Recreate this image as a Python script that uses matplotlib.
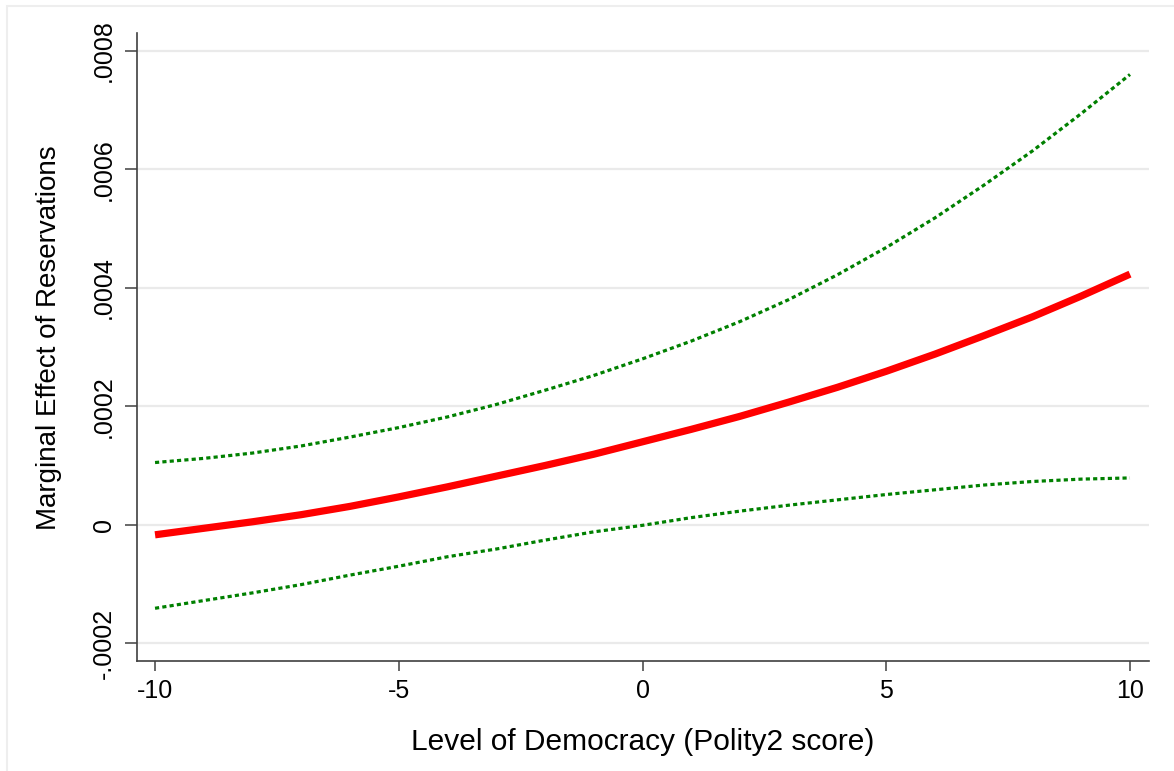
import numpy as np
import matplotlib
matplotlib.use("Agg")
import matplotlib.pyplot as plt
from matplotlib.patches import Rectangle

plt.rcParams['font.family'] = ['Liberation Sans', 'DejaVu Sans']

# polity2 score and marginal effect (in units of 1e-4)
polity = [-10, -9, -8, -7, -6, -5, -4, -3, -2, -1, 0, 1, 2, 3, 4, 5, 6, 7, 8, 9, 10]
effect = [-0.17, -0.06, 0.05, 0.17, 0.31, 0.47, 0.64, 0.82, 1.00, 1.19, 1.40,
          1.61, 1.83, 2.07, 2.32, 2.59, 2.88, 3.19, 3.51, 3.86, 4.23]
upper = [1.05, 1.12, 1.21, 1.33, 1.48, 1.64, 1.82, 2.03, 2.27, 2.52, 2.80,
         3.10, 3.43, 3.80, 4.22, 4.68, 5.18, 5.73, 6.31, 6.94, 7.60]
lower = [-1.41, -1.28, -1.15, -1.01, -0.85, -0.70, -0.54, -0.41, -0.26, -0.12, -0.01,
         0.12, 0.23, 0.33, 0.42, 0.51, 0.59, 0.67, 0.73, 0.77, 0.79]

yticks = [-0.0002, 0, 0.0002, 0.0004, 0.0006, 0.0008]
ytick_labels = ['-.0002', '0', '.0002', '.0004', '.0006', '.0008']
xticks = [-10, -5, 0, 5, 10]

effect = np.array(effect) * 1e-4
upper = np.array(upper) * 1e-4
lower = np.array(lower) * 1e-4

fig = plt.figure(figsize=(11.74, 7.71), dpi=100)
# light outer frame like the stata graph region
fig.patches.append(Rectangle((7/1174, -0.1), 1.2, 1 - 6/771 + 0.1, transform=fig.transFigure,
                             fill=False, edgecolor='#EEEEEE', linewidth=1.5))

ax = fig.add_axes([137/1174, 1 - 661/771, (1149-137)/1174, (661-33)/771])

for t in yticks:
    ax.axhline(t, color='#EAEAEA', linewidth=1.6, zorder=0)

ax.plot(polity, upper, color='#008000', linewidth=2.3, linestyle=(0, (1.3, 1.0)))
ax.plot(polity, lower, color='#008000', linewidth=2.3, linestyle=(0, (1.3, 1.0)))
ax.plot(polity, effect, color='#FF0000', linewidth=5.2, solid_capstyle='butt')

ax.set_xlim(-10.37, 10.39)
ax.set_ylim(-0.00023, 0.00083)
ax.set_xticks(xticks)
ax.set_xticklabels([str(v) for v in xticks])
ax.set_yticks(yticks)
ax.set_yticklabels(ytick_labels, rotation=90, va='center')

for s in ['top', 'right']:
    ax.spines[s].set_visible(False)
for s in ['left', 'bottom']:
    ax.spines[s].set_color('#404040')
    ax.spines[s].set_linewidth(1.2)

ax.tick_params(axis='y', length=9, width=1.1, color='#404040', labelsize=18, pad=6)
ax.tick_params(axis='x', length=7, width=1.1, color='#404040', labelsize=18, pad=6)

ax.set_xlabel('Level of Democracy (Polity2 score)', fontsize=21.5, labelpad=18)
ax.set_ylabel('Marginal Effect of Reservations', fontsize=20, labelpad=22)
ax.yaxis.label.set_y(0.515)

fig.savefig('out.png', dpi=100, facecolor='white')
